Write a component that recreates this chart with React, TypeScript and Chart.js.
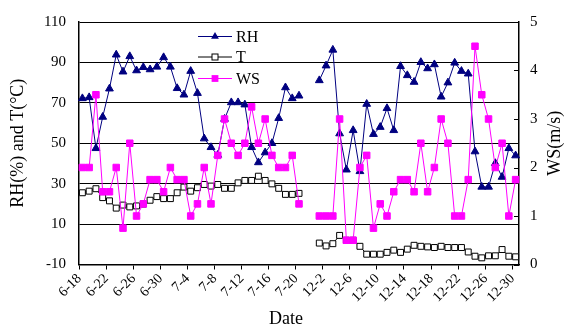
import React, { useEffect, useRef } from "react";
import { Chart, registerables } from "chart.js";

Chart.register(...registerables);

const categories: string[] = [
  "6-18", "6-19", "6-20", "6-21", "6-22", "6-23", "6-24", "6-25", "6-26", "6-27", "6-28", "6-29", "6-30",
  "7-1", "7-2", "7-3", "7-4", "7-5", "7-6", "7-7", "7-8", "7-9", "7-10", "7-11", "7-12", "7-13", "7-14",
  "7-15", "7-16", "7-17", "7-18", "7-19", "7-20", "7-21", "",
  "12-1", "12-2", "12-3", "12-4", "12-5", "12-6", "12-7", "12-8", "12-9", "12-10", "12-11", "12-12",
  "12-13", "12-14", "12-15", "12-16", "12-17", "12-18", "12-19", "12-20", "12-21", "12-22", "12-23",
  "12-24", "12-25", "12-26", "12-27", "12-28", "12-29", "12-30",
];

const rhSummer = [72.2, 72.7, 47.5, 63, 77, 93.8, 85.4, 93, 86, 87.6, 86.5, 87.8, 92.5, 87.8, 77.2, 74, 85.7,
  74.8, 52.3, 48, 44.2, 62, 70.2, 70.2, 69.1, 48, 40.5, 45.4, 50, 62.4, 77.6, 72.2, 73.5];
const rhWinter = [81.1, 88.4, 96.2, 54.8, 36.9, 56.4, 36.1, 69.4, 54.5, 58, 67.3, 56.4, 88.1, 83.6, 80.3, 90.1,
  87, 89, 73, 80, 89.8, 85.7, 84.4, 45.9, 28.4, 28.4, 40.1, 33.3, 47.5, 43.9];

const tSummer = [25.5, 26.3, 27.5, 23.1, 21.5, 17.9, 19.4, 18.5, 19, 19.9, 21.8, 23.6, 22.6, 22.6, 25.5, 28.3,
  26.3, 28, 29.6, 28.8, 29.6, 27.7, 27.7, 30.4, 31.6, 31.6, 33.7, 31.6, 29.9, 27.7, 24.7, 24.7, 25.2];
const tWinter = [0.6, -0.8, 0.3, 4.4, 2, 2, -1, -4.9, -4.9, -4.9, -4, -2.9, -4, -2.4, -0.5, -1, -1.3, -1.6, -1,
  -1.6, -1.6, -1.6, -3.8, -5.9, -6.7, -5.7, -5.7, -2.6, -5.9, -6.2];

const wsSummer = [2.0, 2.0, 3.5, 1.5, 1.5, 2.0, 0.75, 2.5, 1.0, 1.25, 1.75, 1.75, 1.5, 2.0, 1.75, 1.75, 1.0,
  1.25, 2.0, 1.25, 2.25, 3.0, 2.5, 2.25, 2.5, 3.25, 2.5, 3.0, 2.25, 2.0, 2.0, 2.25, 1.25];
const wsWinter = [1.0, 1.0, 1.0, 3.0, 0.5, 0.5, 2.0, 2.25, 0.75, 1.25, 1.0, 1.5, 1.75, 1.75, 1.5, 2.5, 1.5,
  2.0, 3.0, 2.5, 1.0, 1.0, 1.75, 4.5, 3.5, 3.0, 2.0, 2.5, 1.0, 1.75];

const gap = [null, null];
const rhData = [...rhSummer, ...gap, ...rhWinter];
const tData = [...tSummer, ...gap, ...tWinter];
const wsData = [...wsSummer, ...gap, ...wsWinter];

const FONT = "'Liberation Serif', 'Times New Roman', serif";
const NAVY = "#000080";
const MAGENTA = "#FF00FF";

const overlayPlugin = {
  id: "overlay",
  afterDraw(chart: any) {
    const ctx = chart.ctx as CanvasRenderingContext2D;
    const y1 = chart.scales.y1;
    const ca = chart.chartArea;
    ctx.save();
    // inward ticks on right axis
    ctx.strokeStyle = "#000";
    ctx.lineWidth = 1;
    y1.ticks.forEach((t: any) => {
      const y = Math.round(y1.getPixelForValue(t.value)) + 0.5;
      ctx.beginPath();
      ctx.moveTo(ca.right - 5, y);
      ctx.lineTo(ca.right, y);
      ctx.stroke();
    });
    // legend
    const lx0 = ca.left + 119;
    const lx1 = ca.left + 153;
    const mx = (lx0 + lx1) / 2;
    const tx = lx1 + 4;
    const items = [
      { label: "RH", color: NAVY, y: ca.top + 14.5, marker: "tri" },
      { label: "T", color: "#000", y: ca.top + 35, marker: "open" },
      { label: "WS", color: MAGENTA, y: ca.top + 56.5, marker: "sq" },
    ];
    ctx.font = `16px ${FONT}`;
    ctx.textBaseline = "middle";
    ctx.textAlign = "left";
    items.forEach((it) => {
      ctx.strokeStyle = it.color;
      ctx.lineWidth = 1;
      ctx.beginPath();
      ctx.moveTo(lx0, it.y);
      ctx.lineTo(lx1, it.y);
      ctx.stroke();
      if (it.marker === "tri") {
        const r = 4.5;
        ctx.fillStyle = it.color;
        ctx.beginPath();
        ctx.moveTo(mx, it.y - r);
        ctx.lineTo(mx + 0.866 * r, it.y + r / 2);
        ctx.lineTo(mx - 0.866 * r, it.y + r / 2);
        ctx.closePath();
        ctx.fill();
      } else if (it.marker === "open") {
        const s = 3;
        ctx.fillStyle = "#fff";
        ctx.fillRect(mx - s, it.y - s, 2 * s, 2 * s);
        ctx.strokeStyle = "#000";
        ctx.strokeRect(mx - s, it.y - s, 2 * s, 2 * s);
      } else {
        const s = 3.4;
        ctx.fillStyle = it.color;
        ctx.fillRect(mx - s, it.y - s, 2 * s, 2 * s);
      }
      ctx.fillStyle = "#000";
      ctx.fillText(it.label, tx, it.y + 1);
    });
    // x axis title
    ctx.font = `18px ${FONT}`;
    ctx.textAlign = "center";
    ctx.textBaseline = "middle";
    ctx.fillStyle = "#000";
    ctx.fillText("Date", 286, chart.height - 10);
    // right axis title, reading bottom-to-top
    ctx.translate(555, (ca.top + ca.bottom) / 2);
    ctx.rotate(-Math.PI / 2);
    ctx.fillText("WS(m/s)", 0, 0);
    ctx.restore();
  },
};

export default function App() {
  const ref = useRef<HTMLCanvasElement | null>(null);
  useEffect(() => {
    document.body.style.margin = "0";
    if (!ref.current) return;
    const chart = new Chart(ref.current, {
      type: "line",
      data: {
        labels: categories,
        datasets: [
          {
            label: "RH",
            data: rhData,
            yAxisID: "y",
            borderColor: NAVY,
            backgroundColor: NAVY,
            pointBackgroundColor: NAVY,
            pointBorderColor: NAVY,
            pointStyle: "triangle",
            pointRadius: 4.5,
            pointBorderWidth: 1,
            borderWidth: 1,
            tension: 0,
            spanGaps: false,
            order: 2,
          },
          {
            label: "T",
            data: tData,
            yAxisID: "y",
            borderColor: "#000",
            backgroundColor: "#fff",
            pointBackgroundColor: "#fff",
            pointBorderColor: "#000",
            pointStyle: "rect",
            pointRadius: 4.2,
            pointBorderWidth: 1,
            borderWidth: 1,
            tension: 0,
            spanGaps: false,
            order: 1,
          },
          {
            label: "WS",
            data: wsData,
            yAxisID: "y1",
            borderColor: MAGENTA,
            backgroundColor: MAGENTA,
            pointBackgroundColor: MAGENTA,
            pointBorderColor: MAGENTA,
            pointStyle: "rect",
            pointRadius: 4.6,
            pointBorderWidth: 1,
            borderWidth: 1,
            tension: 0,
            spanGaps: false,
            order: 0,
          },
        ],
      },
      options: {
        responsive: false,
        animation: false,
        devicePixelRatio: 1,
        layout: { padding: { top: 18, left: 0, right: 0, bottom: 0 } },
        plugins: {
          legend: { display: false },
          tooltip: { enabled: false },
        },
        scales: {
          x: {
            type: "category",
            offset: true,
            grid: {
              offset: true,
              drawOnChartArea: false,
              drawTicks: true,
              tickLength: 5,
              color: (c: any) => (c.index % 4 === 0 ? "#000" : "rgba(0,0,0,0)"),
              tickColor: (c: any) => (c.index % 4 === 0 ? "#000" : "rgba(0,0,0,0)"),
            },
            border: { display: true, color: "#000", width: 1.5 },
            ticks: {
              autoSkip: false,
              maxRotation: 45,
              minRotation: 45,
              padding: 1,
              labelOffset: -3,
              color: "#000",
              font: { family: FONT, size: 14 },
              callback: (_v: any, i: number) => (i % 4 === 0 ? categories[i] : ""),
            },
            title: { display: false },
            afterFit: (s: any) => {
              s.height = 64.5;
            },
          },
          y: {
            position: "left",
            min: -10,
            max: 110,
            grid: { color: "#000", lineWidth: 1, drawTicks: false },
            border: { display: true, color: "#000", width: 1.5 },
            ticks: {
              stepSize: 20,
              padding: 13,
              color: "#000",
              font: { family: FONT, size: 15 },
            },
            title: {
              display: true,
              text: "RH(%) and T(°C)",
              color: "#000",
              font: { family: FONT, size: 18 },
              padding: { top: 7, bottom: 0 },
            },
            afterFit: (s: any) => {
              s.width = 79;
            },
          },
          y1: {
            position: "right",
            min: 0,
            max: 5,
            grid: { drawOnChartArea: false, drawTicks: false },
            border: { display: true, color: "#000", width: 1.5 },
            ticks: {
              stepSize: 1,
              padding: 11,
              color: "#000",
              font: { family: FONT, size: 15 },
            },
            title: { display: false },
            afterFit: (s: any) => {
              s.width = 47;
            },
          },
        },
      },
      plugins: [overlayPlugin],
    } as any);
    return () => chart.destroy();
  }, []);
  return <canvas ref={ref} width={566} height={329} style={{ display: "block" }} />;
}
